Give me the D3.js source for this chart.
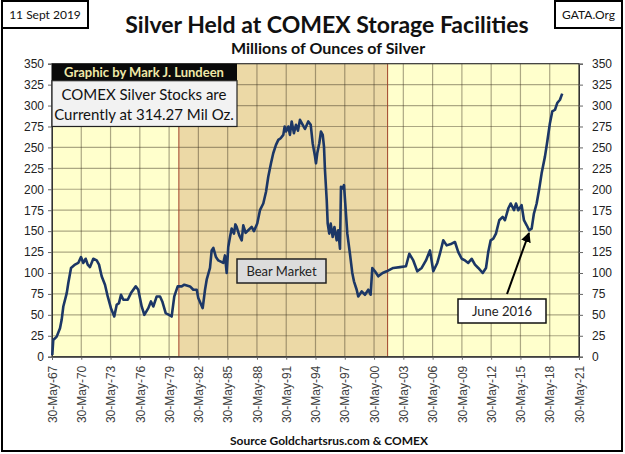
<!DOCTYPE html>
<html><head><meta charset="utf-8">
<script src="https://cdn.jsdelivr.net/npm/d3@7"></script>
<style>
html,body{margin:0;padding:0;background:#fff;}
svg{display:block;}
</style></head>
<body>
<svg id="chart" width="625" height="454"></svg>
<script>
// ---- data (decimal year, millions of ounces) ----
const years = [
1967.44,1967.54,1967.89,1968.23,1968.40,1968.57,1968.92,1969.08,1969.36,1969.77,1970.10,1970.38,1970.62,1970.86,1971.07,1971.30,1971.64,1971.99,1972.23,1972.50,1972.84,1973.12,1973.45,1973.79,1974.04,1974.27,1974.48,1974.72,1975.17,1975.50,1975.99,1976.25,1976.60,1976.87,1977.28,1977.55,1977.79,1978.14,1978.48,1978.71,1979.06,1979.40,1979.67,1979.94,1980.29,1980.70,1980.97,
1981.55,1981.89,1982.24,1982.40,1982.85,1983.09,1983.26,1983.60,1983.77,1983.94,1984.21,1984.45,1984.96,1985.13,1985.31,1985.47,1985.65,1985.82,1986.06,1986.20,1986.33,1986.60,1986.85,1987.01,1987.25,1987.52,1987.87,1988.10,1988.44,1988.72,1989.06,1989.34,1989.57,1989.85,1990.08,1990.36,1990.60,1990.84,1991.11,1991.25,1991.39,1991.62,1991.79,1991.97,1992.20,1992.41,1992.61,1992.82,1993.10,1993.33,1993.67,1993.92,1994.12,1994.36,1994.46,1994.59,1994.80,1994.97,1995.15,1995.28,1995.38,1995.56,1995.66,1995.82,1995.97,1996.17,1996.35,1996.58,1996.74,1996.92,1997.02,1997.19,1997.33,1997.46,1997.67,1997.94,1998.18,1998.35,1998.63,1998.79,1999.14,1999.48,1999.82,2000.06,2000.23,2000.50,2000.84,2001.29,2001.70,
2002.38,2003.07,2003.68,2004.02,2004.43,2004.84,2005.29,2005.73,2006.14,2006.48,2006.89,2007.16,2007.50,2007.85,2008.36,2008.70,2009.04,2009.39,2009.73,2010.06,2010.41,2010.75,2011.09,2011.54,2011.88,2012.11,2012.36,2012.63,2012.90,2013.24,2013.59,2013.82,2014.16,2014.41,2014.75,2014.95,2015.19,2015.53,2015.77,2016.05,2016.31,2016.56,2016.79,2017.07,2017.34,2017.58,2017.92,2018.16,2018.43,2018.67,2018.95,2019.18,2019.46,2019.69
];
const stocks = [
2,20,24,34,44,60,76,88,106,110,112,119,112,117,110,107,117,115,110,96,86,72,58,48,62,64,74,68,68,76,84,80,60,50,58,66,60,72,72,66,52,50,48,72,84,84,86,
84,80,80,70,58,80,92,106,127,130,119,115,112,121,100,131,143,153,147,158,155,145,139,157,148,151,155,150,159,175,183,197,215,231,243,253,259,261,265,275,269,275,265,281,267,277,270,283,277,272,281,277,255,239,231,243,255,269,265,251,223,187,159,147,159,143,155,139,151,129,203,201,205,183,147,123,100,90,80,72,78,74,80,74,106,102,96,100,102,
106,107,108,123,115,102,106,115,127,102,112,123,139,133,135,137,125,117,115,112,117,110,106,100,106,125,139,141,147,163,167,163,177,183,175,183,175,181,163,157,151,153,171,183,201,219,239,257,279,293,295,303,307,314.27
];
const xTickLabels = ["30-May-67","30-May-70","30-May-73","30-May-76","30-May-79","30-May-82","30-May-85","30-May-88","30-May-91","30-May-94","30-May-97","30-May-00","30-May-03","30-May-06","30-May-09","30-May-12","30-May-15","30-May-18","30-May-21"];
const xTickYears = [1967.41,1970.41,1973.41,1976.41,1979.41,1982.41,1985.41,1988.41,1991.41,1994.41,1997.41,2000.41,2003.41,2006.41,2009.41,2012.41,2015.41,2018.41,2021.41];
const yTicks = [0,25,50,75,100,125,150,175,200,225,250,275,300,325,350];
const bearMarket = [1980.41, 2001.80];

// ---- layout ----
const svg = d3.select("#chart");
const L = 52, R = 579, T = 63.7, B = 356.7;
const x = d3.scaleLinear().domain([xTickYears[0], xTickYears[xTickYears.length-1]]).range([L, R]);
const y = d3.scaleLinear().domain([0, 350]).range([B, T]);
const sans = "'Liberation Sans', Arial, sans-serif";
const cal = "Lato, 'Open Sans', sans-serif";

// outer frame
svg.append("path").attr("d", `M2,0 V451 H622 V0`).attr("fill","none").attr("stroke","#000").attr("stroke-width",2);

// plot background
svg.append("rect").attr("x",L).attr("y",T).attr("width",R-L).attr("height",B-T).attr("fill","#ffffcc");
svg.append("rect").attr("x",x(bearMarket[0])).attr("y",T).attr("width",x(bearMarket[1])-x(bearMarket[0])).attr("height",B-T)
  .attr("fill","#ecd9a6");

// grid
const g = svg.append("g");
yTicks.filter(d=>d>0 && d<350).forEach(d=>{
  g.append("line").attr("x1",L).attr("x2",R).attr("y1",y(d)).attr("y2",y(d)).attr("stroke","#3a3020").attr("stroke-opacity",0.42).attr("stroke-width",1.2);
});
xTickYears.slice(1,-1).forEach(d=>{
  g.append("line").attr("x1",x(d)).attr("x2",x(d)).attr("y1",T).attr("y2",B).attr("stroke","#3a3020").attr("stroke-opacity",0.42).attr("stroke-width",1.2);
});
// bear market borders
[bearMarket[0], bearMarket[1]].forEach(d=>{
  svg.append("line").attr("x1",x(d)).attr("x2",x(d)).attr("y1",T).attr("y2",B).attr("stroke","#a0402a").attr("stroke-width",1);
});

// plot frame
svg.append("rect").attr("x",L).attr("y",T).attr("width",R-L).attr("height",B-T).attr("fill","none").attr("stroke","#333").attr("stroke-width",1.2);

// axes
const yl = d3.axisLeft(y).tickValues(yTicks).tickSize(4).tickPadding(4);
const yr = d3.axisRight(y).tickValues(yTicks).tickSize(4).tickPadding(9);
function styleAxis(sel){
  sel.select(".domain").attr("stroke","#333");
  sel.selectAll(".tick line").attr("stroke","#666");
  sel.selectAll("text").attr("font-family",sans).attr("font-size","12px").attr("fill","#222");
}
svg.append("g").attr("transform",`translate(${L},0)`).call(yl).call(styleAxis);
svg.append("g").attr("transform",`translate(${R},0)`).call(yr).call(styleAxis);

const xa = d3.axisBottom(x).tickValues(xTickYears).tickSize(3).tickFormat((d,i)=>xTickLabels[i]);
const xg = svg.append("g").attr("transform",`translate(0,${B})`).call(xa).call(styleAxis);
xg.selectAll("text").attr("text-anchor","end").attr("transform","rotate(-90)").attr("x",-9).attr("y",0).attr("dy","0.35em").attr("fill","#404040");

// data line
const line = d3.line().x((d,i)=>x(years[i])).y(d=>y(d));
svg.append("path").datum(stocks).attr("d",line).attr("fill","none").attr("stroke","#1c3766").attr("stroke-width",2.6).attr("stroke-linejoin","round");

// credit boxes
svg.append("rect").attr("x",L).attr("y",T).attr("width",185).attr("height",17).attr("fill","#0a0a0a");
svg.append("text").attr("x",L+92).attr("y",T+13).attr("text-anchor","middle").attr("font-family",cal).attr("font-weight","bold").attr("font-size","13px").attr("fill","#efe8a8").text("Graphic by Mark J. Lundeen");
svg.append("rect").attr("x",L).attr("y",T+17).attr("width",185).attr("height",y(275)-T-17).attr("fill","#f2f2f2").attr("stroke","#222").attr("stroke-width",1.2);
svg.append("text").attr("x",L+92).attr("y",T+36).attr("text-anchor","middle").attr("font-family",cal).attr("font-size","15px").attr("fill","#111").text("COMEX Silver Stocks are");
svg.append("text").attr("x",L+92).attr("y",T+56).attr("text-anchor","middle").attr("font-family",cal).attr("font-size","15px").attr("fill","#111").text("Currently at 314.27 Mil Oz.");

// Bear Market label
svg.append("rect").attr("x",237).attr("y",259).attr("width",89).attr("height",24).attr("fill","#dcdcdc").attr("stroke","#222").attr("stroke-width",1.5);
svg.append("text").attr("x",281.5).attr("y",276).attr("text-anchor","middle").attr("font-family",cal).attr("font-size","13px").attr("fill","#222").text("Bear Market");

// June 2016 annotation
svg.append("defs").append("marker").attr("id","arr").attr("viewBox","0 0 10 10").attr("refX",9).attr("refY",5)
  .attr("markerWidth",5).attr("markerHeight",5).attr("orient","auto").append("path").attr("d","M0,0 L10,5 L0,10 z").attr("fill","#000");
svg.append("line").attr("x1",507).attr("y1",294).attr("x2",529).attr("y2",233).attr("stroke","#000").attr("stroke-width",2).attr("marker-end","url(#arr)");
svg.append("rect").attr("x",458).attr("y",299).attr("width",88).attr("height",24).attr("fill","#fff").attr("stroke","#111").attr("stroke-width",1.5);
svg.append("text").attr("x",502).attr("y",316).attr("text-anchor","middle").attr("font-family",cal).attr("font-size","13px").attr("fill","#222").text("June 2016");

// titles
svg.append("text").attr("x",327).attr("y",33).attr("text-anchor","middle").attr("font-family",cal).attr("font-weight","bold").attr("font-size","23px").attr("fill","#111").text("Silver Held at COMEX Storage Facilities");
svg.append("text").attr("x",328).attr("y",54).attr("text-anchor","middle").attr("font-family",cal).attr("font-weight","bold").attr("font-size","16px").attr("fill","#111").text("Millions of Ounces of Silver");
svg.append("text").attr("x",329).attr("y",445).attr("text-anchor","middle").attr("font-family",cal).attr("font-weight","bold").attr("font-size","12px").attr("fill","#111").text("Source Goldchartsrus.com & COMEX");

// corner boxes
svg.append("rect").attr("x",2).attr("y",1).attr("width",86).attr("height",27).attr("fill","#fff").attr("stroke","#000").attr("stroke-width",2);
svg.append("text").attr("x",45).attr("y",19).attr("text-anchor","middle").attr("font-family",cal).attr("font-size","12px").attr("fill","#111").text("11 Sept 2019");
svg.append("rect").attr("x",555).attr("y",1).attr("width",67).attr("height",27).attr("fill","#fff").attr("stroke","#000").attr("stroke-width",2);
svg.append("text").attr("x",588.5).attr("y",19).attr("text-anchor","middle").attr("font-family",cal).attr("font-size","12px").attr("fill","#111").text("GATA.Org");
</script>
</body></html>
